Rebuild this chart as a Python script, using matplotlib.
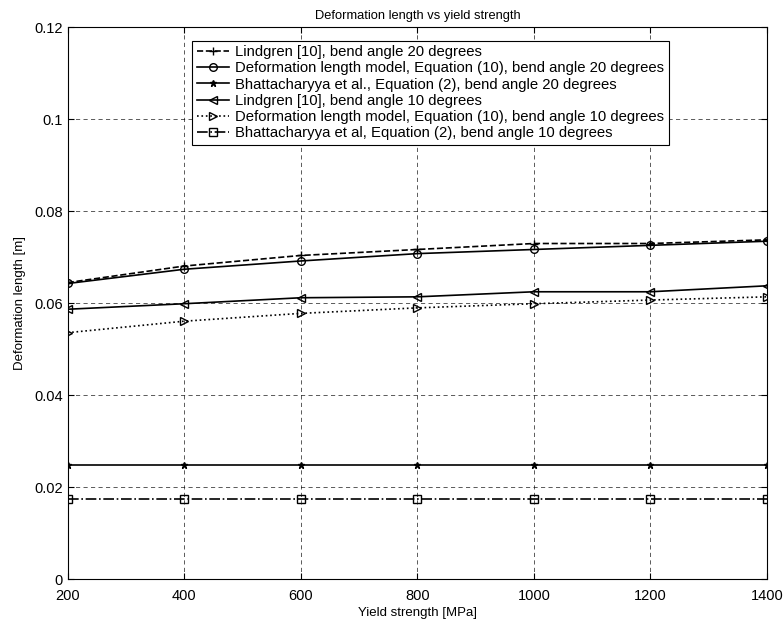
import matplotlib
matplotlib.use("Agg")
import matplotlib.pyplot as plt

plt.rcParams["font.family"] = ["Liberation Sans", "DejaVu Sans"]

yield_strength = [200, 400, 600, 800, 1000, 1200, 1400]

lindgren_20 = [0.0645, 0.0681, 0.0704, 0.0717, 0.0730, 0.0730, 0.0738]
model_20 = [0.0643, 0.0674, 0.0692, 0.0708, 0.0717, 0.0726, 0.0735]
bhatta_20 = [0.0248] * 7
lindgren_10 = [0.0587, 0.0599, 0.0612, 0.0614, 0.0625, 0.0625, 0.0638]
model_10 = [0.0536, 0.0561, 0.0578, 0.0590, 0.0599, 0.0607, 0.0614]
bhatta_10 = [0.0175] * 7

labels = [
    "Lindgren [10], bend angle 20 degrees",
    "Deformation length model, Equation (10), bend angle 20 degrees",
    "Bhattacharyya et al., Equation (2), bend angle 20 degrees",
    "Lindgren [10], bend angle 10 degrees",
    "Deformation length model, Equation (10), bend angle 10 degrees",
    "Bhattacharyya et al, Equation (2), bend angle 10 degrees",
]

fig = plt.figure(figsize=(7.83, 6.24), dpi=100)
ax = fig.add_axes([0.0865, 0.072, 0.893, 0.884])

mk = dict(color="black", markerfacecolor="none", markeredgecolor="black",
          markersize=5.5, linewidth=1.2, markeredgewidth=1.0)
ax.plot(yield_strength, lindgren_20, linestyle="--", marker="+", label=labels[0], **mk)
ax.plot(yield_strength, model_20, linestyle="-", marker="o", label=labels[1], **mk)
ax.plot(yield_strength, bhatta_20, linestyle="-", marker="*", label=labels[2],
        **{**mk, "markersize": 5, "markerfacecolor": "black"})
ax.plot(yield_strength, lindgren_10, linestyle="-", marker="<", label=labels[3], **mk)
ax.plot(yield_strength, model_10, linestyle=":", marker=">", label=labels[4], **mk)
ax.plot(yield_strength, bhatta_10, linestyle="-.", marker="s", label=labels[5], **mk)

ax.set_xlim(200, 1400)
ax.set_ylim(0, 0.12)
ax.set_xticks(yield_strength)
ax.set_yticks([0, 0.02, 0.04, 0.06, 0.08, 0.1, 0.12])
ax.set_yticklabels(["0", "0.02", "0.04", "0.06", "0.08", "0.1", "0.12"])
ax.grid(True, color="black", linestyle=(0, (5, 4)), linewidth=0.6, alpha=0.75)
ax.tick_params(direction="in", labelsize=10.5, length=4, top=True, right=True)
ax.tick_params(axis="x", pad=7)
for s in ax.spines.values():
    s.set_linewidth(0.8)

ax.set_xlabel("Yield strength [MPa]", fontsize=9.5, labelpad=3)
ax.set_ylabel("Deformation length [m]", fontsize=9.5, labelpad=6)
ax.set_title("Deformation length vs yield strength", fontsize=9.3, pad=6)

leg = ax.legend(loc="upper left", bbox_to_anchor=(0.178, 0.976), borderaxespad=0,
                fontsize=10.7, handlelength=2.2, labelspacing=0.15, handletextpad=0.4,
                fancybox=False, framealpha=1, edgecolor="black", borderpad=0.3)
leg.get_frame().set_linewidth(0.8)

fig.savefig("out.png", dpi=100)
